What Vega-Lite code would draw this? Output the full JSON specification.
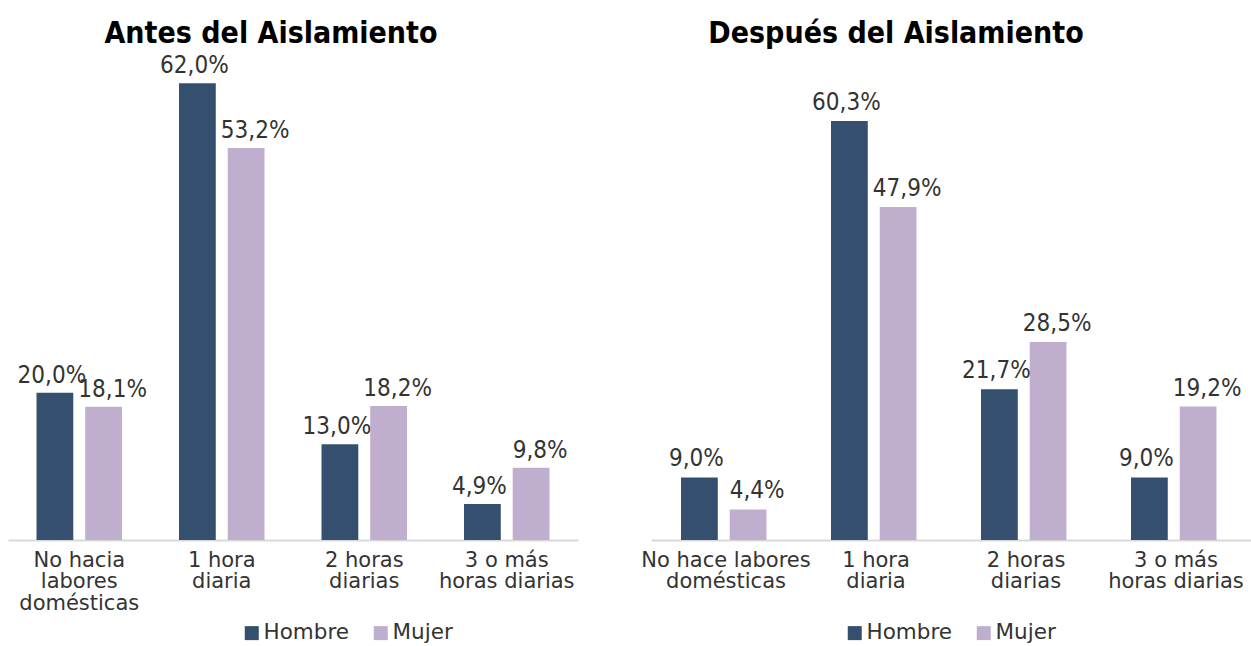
{
  "$schema": "https://vega.github.io/schema/vega-lite/v6.json",
  "background": "white",
  "padding": {"left": 8, "top": 19, "right": 0, "bottom": 0},
  "bounds": "flush",
  "spacing": 73,
  "config": {
    "view": {"stroke": null},
    "font": "DejaVu Sans Condensed, sans-serif",
    "locale": {"number": {"decimal": ",", "thousands": ".", "grouping": [3], "currency": ["", "€"]}},
    "title": {"fontSize": 30, "fontWeight": "bold", "color": "#000000", "font": "DejaVu Sans Condensed, sans-serif", "anchor": "middle", "baseline": "alphabetic", "offset": 1},
    "axisX": {"labelFont": "DejaVu Sans, sans-serif", "labelFontSize": 21, "labelColor": "#333333", "labelLineHeight": 21.5, "labelPadding": 9, "domainColor": "#d9d9d9", "domainWidth": 2, "ticks": false, "labelAngle": 0, "labelLimit": 300, "title": null, "labelExpr": "split(datum.label, '|')"},
    "legend": {"orient": "none", "direction": "horizontal", "symbolType": "square", "symbolSize": 196, "labelFont": "DejaVu Sans, sans-serif", "labelFontSize": 21.5, "labelColor": "#333333", "title": null, "columnPadding": 20, "labelOffset": 1, "symbolStrokeWidth": 0}
  },
  "datasets": {
    "antes": [
      {"categoria": "No hacia|labores|domésticas", "sexo": "Hombre", "valor": 0.200},
      {"categoria": "No hacia|labores|domésticas", "sexo": "Mujer", "valor": 0.181},
      {"categoria": "1 hora|diaria", "sexo": "Hombre", "valor": 0.620},
      {"categoria": "1 hora|diaria", "sexo": "Mujer", "valor": 0.532},
      {"categoria": "2 horas|diarias", "sexo": "Hombre", "valor": 0.130},
      {"categoria": "2 horas|diarias", "sexo": "Mujer", "valor": 0.182},
      {"categoria": "3 o más|horas diarias", "sexo": "Hombre", "valor": 0.049},
      {"categoria": "3 o más|horas diarias", "sexo": "Mujer", "valor": 0.098}
    ],
    "despues": [
      {"categoria": "No hace labores|domésticas", "sexo": "Hombre", "valor": 0.090},
      {"categoria": "No hace labores|domésticas", "sexo": "Mujer", "valor": 0.044},
      {"categoria": "1 hora|diaria", "sexo": "Hombre", "valor": 0.603},
      {"categoria": "1 hora|diaria", "sexo": "Mujer", "valor": 0.479},
      {"categoria": "2 horas|diarias", "sexo": "Hombre", "valor": 0.217},
      {"categoria": "2 horas|diarias", "sexo": "Mujer", "valor": 0.285},
      {"categoria": "3 o más|horas diarias", "sexo": "Hombre", "valor": 0.090},
      {"categoria": "3 o más|horas diarias", "sexo": "Mujer", "valor": 0.192}
    ]
  },
  "hconcat": [
    {
      "title": {"text": "Antes del Aislamiento", "dx": -22},
      "width": 570,
      "height": 490,
      "data": {"name": "antes"},
      "encoding": {
        "x": {"field": "categoria", "type": "nominal", "sort": null, "scale": {"paddingInner": 0.4, "paddingOuter": 0.2}},
        "xOffset": {"field": "sexo", "type": "nominal", "sort": ["Hombre", "Mujer"], "scale": {"paddingInner": 0.245}},
        "y": {"field": "valor", "type": "quantitative", "scale": {"domain": [0, 0.665]}, "axis": null},
        "color": {"field": "sexo", "type": "nominal", "scale": {"domain": ["Hombre", "Mujer"], "range": ["#34506e", "#bfaecd"]}, "legend": {"legendX": 233, "legendY": 572}}
      },
      "layer": [
        {"mark": {"type": "bar"}},
        {"transform": [{"filter": "datum.sexo === 'Hombre'"}], "mark": {"type": "text", "dy": -17, "dx": -3, "fontSize": 24, "color": "#333333"}, "encoding": {"text": {"field": "valor", "type": "quantitative", "format": ".1%"}, "color": {"value": "#333333"}}},
        {"transform": [{"filter": "datum.sexo === 'Mujer'"}], "mark": {"type": "text", "dy": -17, "dx": 9, "fontSize": 24, "color": "#333333"}, "encoding": {"text": {"field": "valor", "type": "quantitative", "format": ".1%"}, "color": {"value": "#333333"}}}
      ]
    },
    {
      "title": {"text": "Después del Aislamiento", "dx": -55},
      "width": 600,
      "height": 490,
      "data": {"name": "despues"},
      "encoding": {
        "x": {"field": "categoria", "type": "nominal", "sort": null, "scale": {"paddingInner": 0.4, "paddingOuter": 0.2}},
        "xOffset": {"field": "sexo", "type": "nominal", "sort": ["Hombre", "Mujer"], "scale": {"paddingInner": 0.25}},
        "y": {"field": "valor", "type": "quantitative", "scale": {"domain": [0, 0.705]}, "axis": null},
        "color": {"field": "sexo", "type": "nominal", "scale": {"domain": ["Hombre", "Mujer"], "range": ["#34506e", "#bfaecd"]}, "legend": {"legendX": 193, "legendY": 572}}
      },
      "layer": [
        {"mark": {"type": "bar"}},
        {"transform": [{"filter": "datum.sexo === 'Hombre'"}], "mark": {"type": "text", "dy": -18, "dx": -3, "fontSize": 24, "color": "#333333"}, "encoding": {"text": {"field": "valor", "type": "quantitative", "format": ".1%"}, "color": {"value": "#333333"}}},
        {"transform": [{"filter": "datum.sexo === 'Mujer'"}], "mark": {"type": "text", "dy": -18, "dx": 9, "fontSize": 24, "color": "#333333"}, "encoding": {"text": {"field": "valor", "type": "quantitative", "format": ".1%"}, "color": {"value": "#333333"}}}
      ]
    }
  ],
  "resolve": {"scale": {"x": "independent", "y": "independent", "color": "independent"}, "legend": {"color": "independent"}}
}
